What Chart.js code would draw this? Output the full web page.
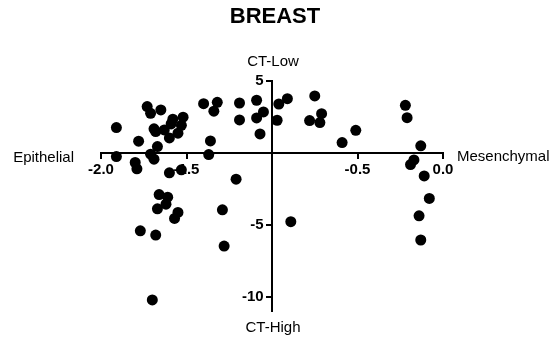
<!DOCTYPE html>
<html>
<head>
<meta charset="utf-8">
<script src="https://cdn.jsdelivr.net/npm/chart.js@4.4.1/dist/chart.umd.min.js"></script>
<style>
  html, body { margin: 0; padding: 0; background: #ffffff; }
  #wrap { width: 553px; height: 339px; position: relative; }
</style>
</head>
<body>
<div id="wrap"><canvas id="chart"></canvas></div>
<script>
// EMT score (x) and CT score (y) for each breast sample
const emtScore = [
  -1.91, -1.91, -1.78, -1.80, -1.79, -1.73, -1.71, -1.65, -1.69, -1.68,
  -1.63, -1.67, -1.71, -1.69, -1.60, -1.58, -1.59, -1.52, -1.53, -1.55,
  -1.60, -1.53, -1.40, -1.32, -1.34, -1.36, -1.37, -1.19, -1.19, -1.09,
  -1.09, -1.05, -1.07, -1.21, -0.96, -0.97, -0.91, -0.75, -0.71, -0.78,
  -0.72, -0.51, -0.59, -0.22, -0.21, -0.13, -0.17, -0.19, -0.11, -0.08,
  -0.14, -0.13, -0.89, -1.66, -1.61, -1.62, -1.67, -1.55, -1.57, -1.29,
  -1.77, -1.68, -1.28, -1.70
];
const ctScore = [
   1.76, -0.26,  0.81, -0.67, -1.11,  3.22,  2.75,  2.99,  1.67,  1.48,
   1.60,  0.44, -0.09, -0.44,  1.04,  2.34,  2.01,  2.48,  1.92,  1.37,
  -1.39, -1.18,  3.42,  3.52,  2.90,  0.83, -0.12,  3.47,  2.29,  3.66,
   2.43,  2.85,  1.32, -1.83,  3.40,  2.27,  3.77,  3.96,  2.73,  2.25,
   2.11,  1.57,  0.72,  3.31,  2.45,  0.49, -0.49, -0.81, -1.60, -3.17,
  -4.38, -6.06, -4.79, -2.90, -3.08, -3.57, -3.89, -4.14, -4.56, -3.96,
  -5.42, -5.72, -6.48, -10.23
];

// Axis ranges and tick steps
const xRange = [-2.0, 0.0];
const yRange = [-11, 5];
const xStep = 0.5;
const yStep = 5;
const xCross = -1.0;   // where the vertical axis sits
const yCross = 0;      // where the horizontal axis sits

const labels = {
  title: 'BREAST',
  top: 'CT-Low',
  bottom: 'CT-High',
  left: 'Epithelial',
  right: 'Mesenchymal'
};

const points = emtScore.map((v, i) => ({ x: v, y: ctScore[i] }));

const FONT = "'Liberation Sans', Arial, Helvetica, sans-serif";

// Titles around the crossed axes
const quadrantLabels = {
  id: 'quadrantLabels',
  afterDraw(chart) {
    const { ctx, scales: { x, y } } = chart;
    const cx = x.getPixelForValue(xCross);
    const zeroY = y.getPixelForValue(yCross);
    ctx.save();
    ctx.fillStyle = '#000';
    ctx.textBaseline = 'middle';

    ctx.font = `bold 22px ${FONT}`;
    ctx.textAlign = 'center';
    ctx.fillText(labels.title, cx + 3, 17);

    ctx.font = `15px ${FONT}`;
    ctx.fillText(labels.top, cx + 1, y.getPixelForValue(yRange[1]) - 19);
    ctx.fillText(labels.bottom, cx + 1, y.bottom + 17);

    ctx.textAlign = 'right';
    ctx.fillText(labels.left, x.left - 27, zeroY + 5);
    ctx.textAlign = 'left';
    ctx.fillText(labels.right, x.right + 14, zeroY + 4);
    ctx.restore();
  }
};

new Chart(document.getElementById('chart'), {
  type: 'scatter',
  data: {
    datasets: [{
      data: points,
      backgroundColor: '#000',
      borderColor: '#000',
      borderWidth: 0,
      pointRadius: 5.5,
      pointHoverRadius: 5.5
    }]
  },
  options: {
    responsive: true,
    maintainAspectRatio: false,
    animation: false,
    layout: { padding: { left: 101, right: 110, top: 81, bottom: 28 } },
    plugins: {
      legend: { display: false },
      tooltip: { enabled: false },
      title: { display: false }
    },
    scales: {
      x: {
        type: 'linear',
        position: { y: yCross },
        min: xRange[0],
        max: xRange[1],
        grid: {
          display: true,
          drawOnChartArea: false,
          drawTicks: true,
          tickLength: 5,
          color: '#000',
          lineWidth: 2
        },
        border: { display: true, color: '#000', width: 2 },
        ticks: {
          stepSize: xStep,
          color: '#000',
          padding: 3,
          font: { family: FONT, size: 15, weight: 'bold' },
          callback: (v) => (Math.abs(v - xCross) < 1e-9 ? '' : v.toFixed(1))
        }
      },
      y: {
        type: 'linear',
        position: { x: xCross },
        min: yRange[0],
        max: yRange[1],
        grid: {
          display: true,
          drawOnChartArea: false,
          drawTicks: true,
          tickLength: 5,
          color: '#000',
          lineWidth: 2
        },
        border: { display: true, color: '#000', width: 2 },
        ticks: {
          stepSize: yStep,
          includeBounds: false,
          color: '#000',
          font: { family: FONT, size: 15, weight: 'bold' },
          // trailing spaces keep the label clear of the tick mark
          callback: (v) => (v === yCross ? '' : String(v) + '  ')
        }
      }
    }
  },
  plugins: [quadrantLabels]
});
</script>
</body>
</html>
